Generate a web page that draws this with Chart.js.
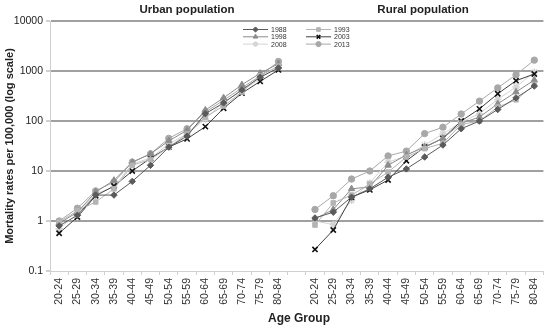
<!DOCTYPE html>
<html>
<head>
<meta charset="utf-8">
<script src="https://cdn.jsdelivr.net/npm/chart.js@4/dist/chart.umd.min.js"></script>
<style>
  html, body { margin: 0; padding: 0; background: #fff; }
  #wrap { width: 550px; height: 330px; position: relative; }
</style>
</head>
<body>
<div id="wrap"><canvas id="c" width="550" height="330"></canvas></div>
<script>
// ---- Data ----
const ageGroups = ['20-24','25-29','30-34','35-39','40-44','45-49','50-54','55-59','60-64','65-69','70-74','75-79','80-84'];
const panelTitles = ['Urban population', 'Rural population'];
const seriesNames = ['1988', '1993', '1998', '2003', '2008', '2013'];
const yTickValues = [0.1, 1, 10, 100, 1000, 10000];

const urban1988 = [0.8, 1.3, 3.3, 3.3, 6.2, 13, 30, 50, 140, 230, 420, 750, 1150];
const urban1993 = [0.95, 1.6, 2.4, 4.4, 13, 17, 30, 55, 120, 200, 380, 800, 1250];
const urban1998 = [0.9, 1.5, 3.8, 6.5, 15, 22, 40, 65, 165, 290, 530, 900, 1400];
const urban2003 = [0.57, 1.2, 3.2, 5.0, 10, 18, 30, 44, 77, 180, 360, 620, 1050];
const urban2008 = [0.7, 1.4, 3.5, 4.8, 14, 18, 35, 55, 110, 240, 400, 700, 1300];
const urban2013 = [1.0, 1.8, 4.0, 6.0, 15, 22, 45, 70, 150, 260, 460, 800, 1550];

const rural1988 = [1.15, 1.5, 3.0, 4.4, 7.5, 11, 19, 33, 70, 100, 170, 290, 500];
const rural1993 = [0.83, 2.3, 3.3, 5.5, 9.5, 19, 28, 36, 85, 100, 190, 265, 530];
const rural1998 = [1.1, 1.7, 4.4, 4.8, 13, 21, 30, 45, 90, 120, 220, 380, 660];
const rural2003 = [0.27, 0.66, 3.0, 4.2, 6.6, 16, 30, 45, 100, 175, 350, 640, 870];
const rural2008 = [1.0, 0.85, 2.6, 5.8, 15, 20, 33, 55, 95, 140, 270, 480, 950];
const rural2013 = [1.7, 3.2, 6.9, 10, 20, 25, 56, 75, 138, 250, 460, 840, 1650];

const urbanSeries = [urban1988, urban1993, urban1998, urban2003, urban2008, urban2013];
const ruralSeries = [rural1988, rural1993, rural1998, rural2003, rural2008, rural2013];

// ---- Styles ----
const styles = [
  { color: '#5a5a5a', point: 'rectRot', radius: 3.2 },
  { color: '#b4b4b4', point: 'rect',    radius: 3.2 },
  { color: '#8c8c8c', point: 'triangle',radius: 3.7 },
  { color: '#111111', line: '#404040', point: 'crossRot', radius: 3.7, pw: 1.6 },
  { color: '#d4d4d4', point: 'star',    radius: 3.7, pw: 1.5 },
  { color: '#a8a8a8', point: 'circle',  radius: 3.2 }
];

const labels = [...ageGroups, '', ...ageGroups];

const datasets = seriesNames.map((name, i) => {
  const s = styles[i];
  return {
    label: name,
    data: [...urbanSeries[i], null, ...ruralSeries[i]],
    borderColor: s.line || s.color,
    backgroundColor: s.color,
    pointBorderColor: s.color,
    pointBackgroundColor: s.color,
    pointStyle: s.point,
    pointRadius: s.radius,
    pointBorderWidth: s.pw || 1,
    borderWidth: 1,
    spanGaps: false,
    tension: 0
  };
});

const FONT = '"Liberation Sans", Arial, sans-serif';

const decorPlugin = {
  id: 'decor',
  afterDraw(chart) {
    const ctx = chart.ctx;
    ctx.save();
    // panel titles
    ctx.fillStyle = '#222';
    ctx.font = 'bold 11.5px ' + FONT;
    ctx.textAlign = 'center';
    ctx.textBaseline = 'middle';
    ctx.fillText(panelTitles[0], 187, 10);
    ctx.fillText(panelTitles[1], 423, 10);
    // axis titles
    ctx.font = 'bold 12px ' + FONT;
    ctx.fillText('Age Group', 299, 319);
    ctx.save();
    ctx.translate(10, 146);
    ctx.rotate(-Math.PI / 2);
    ctx.font = 'bold 11px ' + FONT;
    ctx.fillText('Mortality rates per 100,000 (log scale)', 0, 0);
    ctx.restore();
    // legend
    ctx.font = '7px ' + FONT;
    ctx.textAlign = 'left';
    chart.data.datasets.forEach((ds, i) => {
      const col = i % 2, row = Math.floor(i / 2);
      const x0 = col === 0 ? 243 : 306;
      const y0 = 29.5 + row * 7.3;
      ctx.strokeStyle = ds.borderColor;
      ctx.lineWidth = 1;
      ctx.beginPath();
      ctx.moveTo(x0, y0);
      ctx.lineTo(x0 + 25, y0);
      ctx.stroke();
      ctx.fillStyle = ds.pointBackgroundColor;
      ctx.strokeStyle = ds.pointBorderColor;
      ctx.lineWidth = ds.pointBorderWidth;
      Chart.helpers.drawPoint(ctx, { pointStyle: ds.pointStyle, radius: 2.6, borderWidth: ds.pointBorderWidth }, x0 + 12.5, y0);
      ctx.fillStyle = '#333';
      ctx.fillText(ds.label, x0 + 28, y0 + 0.5);
    });
    ctx.restore();
  }
};

new Chart(document.getElementById('c'), {
  type: 'line',
  data: { labels, datasets },
  plugins: [decorPlugin],
  options: {
    responsive: false,
    animation: false,
    devicePixelRatio: 1,
    layout: { padding: { top: 21, left: 0, right: 1, bottom: 0 } },
    plugins: { legend: { display: false }, tooltip: { enabled: false }, title: { display: false } },
    scales: {
      x: {
        type: 'category',
        offset: true,
        afterFit(scale) { scale.height = 59; },
        grid: {
          display: true,
          drawOnChartArea: false,
          drawTicks: true,
          tickLength: 4,
          offset: true,
          color: '#d0d0d0',
          tickColor: '#d0d0d0'
        },
        border: { display: true, color: '#d0d0d0', width: 1 },
        ticks: {
          autoSkip: false,
          minRotation: 90,
          maxRotation: 90,
          padding: 3,
          color: '#333',
          font: { family: FONT, size: 10.5 }
        }
      },
      y: {
        type: 'logarithmic',
        min: 0.1,
        max: 10000,
        afterFit(scale) { scale.width = 50; },
        afterBuildTicks(scale) { scale.ticks = yTickValues.map(v => ({ value: v })); },
        grid: {
          color: ctx => (ctx.tick && ctx.tick.value === 0.1) ? 'rgba(0,0,0,0)' : '#a0a0a0',
          lineWidth: 2,
          drawTicks: true,
          tickLength: 4,
          tickColor: '#d0d0d0'
        },
        border: { display: true, color: '#d0d0d0', width: 1 },
        ticks: {
          padding: 3,
          color: '#222',
          font: { family: FONT, size: 10.5 },
          callback: v => String(v)
        }
      }
    }
  }
});
</script>
</body>
</html>
